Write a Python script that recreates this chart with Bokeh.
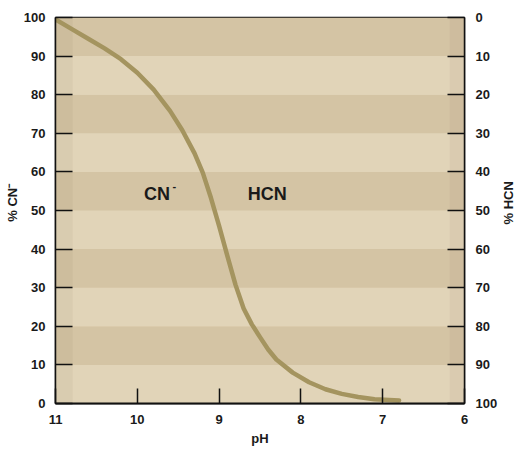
import math
from bokeh.plotting import figure
from bokeh.layouts import row
from bokeh.models import Range1d, LinearAxis, FixedTicker, BoxAnnotation, ColumnDataSource
from bokeh.core.properties import value
from bokeh.embed import file_html
from bokeh.resources import INLINE

# Data
ph = [11.0, 10.8, 10.6, 10.4, 10.2, 10.0, 9.8, 9.6, 9.45, 9.3, 9.2, 9.1, 9.0,
      8.9, 8.8, 8.7, 8.6, 8.5, 8.4, 8.3, 8.1, 7.9, 7.7, 7.5, 7.3, 7.1, 6.8]
pct_cn = [99.5, 97.0, 94.5, 92.0, 89.2, 85.7, 81.3, 75.8, 70.8, 64.8, 59.8, 53.3, 46.0,
          38.3, 30.8, 24.6, 20.5, 17.2, 14.0, 11.4, 8.0, 5.5, 3.7, 2.5, 1.7, 1.1, 0.8]
x_ticks = [11, 10, 9, 8, 7, 6]
y_ticks = [0, 10, 20, 30, 40, 50, 60, 70, 80, 90, 100]
band_edges = [0, 10, 20, 30, 40, 50, 60, 70, 80, 90, 100]
region_labels = ["CN", "HCN"]
region_ph = [9.76, 8.41]
region_pct = [54.4, 54.4]
left_title = "% CN\u207b"
right_title = "% HCN"

LIGHT = "#e1d4b8"
DARK = "#d4c4a4"
FONT = "Liberation Sans"
H = 450
LW, RW = 20, 23
MAIN_W = 523 - LW - RW

p = figure(width=MAIN_W, height=H, x_range=Range1d(11, 6), y_range=Range1d(0, 100),
           output_backend="svg", toolbar_location=None,
           min_border_left=33, min_border_right=35, min_border_top=17, min_border_bottom=47)
p.extra_y_ranges = {"hcn": Range1d(100, 0)}
p.background_fill_color = LIGHT
p.border_fill_color = "white"
p.outline_line_color = "#111111"
p.outline_line_width = 1.5
p.grid.visible = False

for i in range(len(band_edges) - 1):
    col = LIGHT if i % 2 == 0 else DARK
    p.add_layout(BoxAnnotation(bottom=band_edges[i], top=band_edges[i + 1],
                               fill_color=col, fill_alpha=1.0, line_alpha=0, level="underlay"))
p.add_layout(BoxAnnotation(left=11, right=10.79, fill_color="#6a5a3a", fill_alpha=0.06,
                           line_alpha=0, level="underlay"))
p.add_layout(BoxAnnotation(left=6.18, right=6, fill_color="#8a6a5a", fill_alpha=0.08,
                           line_alpha=0, level="underlay"))

p.line(ph, pct_cn, line_color="#a4945f", line_width=4.5, line_cap="round", line_join="round")

src = ColumnDataSource(dict(x=region_ph, y=region_pct, t=region_labels))
p.text(x="x", y="y", text="t", source=src, text_font=value(FONT), text_font_style="bold",
       text_font_size="18px", text_color="#1a1a1a", text_align="center", text_baseline="middle")
p.text(x=[region_ph[0] - 0.19], y=[region_pct[0] + 2.0], text=["-"], text_font=value(FONT),
       text_font_style="bold", text_font_size="11px", text_color="#1a1a1a",
       text_align="left", text_baseline="middle")

def style(ax, tick_in):
    ax.major_tick_in = tick_in
    ax.major_tick_out = 0
    ax.minor_tick_line_color = None
    ax.major_tick_line_color = "#111111"
    ax.major_tick_line_width = 1.5
    ax.axis_line_color = "#111111"
    ax.major_label_text_font = FONT
    ax.major_label_text_font_style = "bold"
    ax.major_label_text_font_size = "13px"
    ax.major_label_text_color = "#1a1a1a"
    ax.axis_label_text_font = FONT
    ax.axis_label_text_font_style = "bold"
    ax.axis_label_text_font_size = "13px"
    ax.axis_label_text_color = "#1a1a1a"

xa = p.xaxis[0]
xa.ticker = FixedTicker(ticks=x_ticks)
style(xa, 15)
xa.axis_line_width = 2
xa.axis_label = "pH"
xa.major_label_standoff = 11
xa.axis_label_standoff = 4

ya = p.yaxis[0]
ya.ticker = FixedTicker(ticks=y_ticks)
style(ya, 17)
ya.axis_line_width = 1.5
ya.major_label_standoff = 10

ra = LinearAxis(y_range_name="hcn", ticker=FixedTicker(ticks=y_ticks))
style(ra, 17)
ra.axis_line_width = 1.5
ra.major_label_standoff = 11
p.add_layout(ra, "right")

# Narrow side panels carrying the rotated axis titles (both read bottom-to-top)
def side_title(width, text, cx):
    f = figure(width=width, height=H, x_range=Range1d(0, width), y_range=Range1d(0, H),
               output_backend="svg", toolbar_location=None,
               x_axis_location=None, y_axis_location=None, min_border=0)
    f.grid.visible = False
    f.outline_line_color = None
    f.background_fill_color = "white"
    f.border_fill_color = "white"
    f.text(x=[cx], y=[H - 216], text=[text], angle=math.pi / 2,
           text_font=value(FONT), text_font_style="bold", text_font_size="13px",
           text_color="#1a1a1a", text_align="center", text_baseline="middle")
    return f

left_panel = side_title(LW, left_title, 12)
right_panel = side_title(RW, right_title, 8)

layout = row(left_panel, p, right_panel, spacing=0)
open("out.html", "w").write(file_html(layout, INLINE))
